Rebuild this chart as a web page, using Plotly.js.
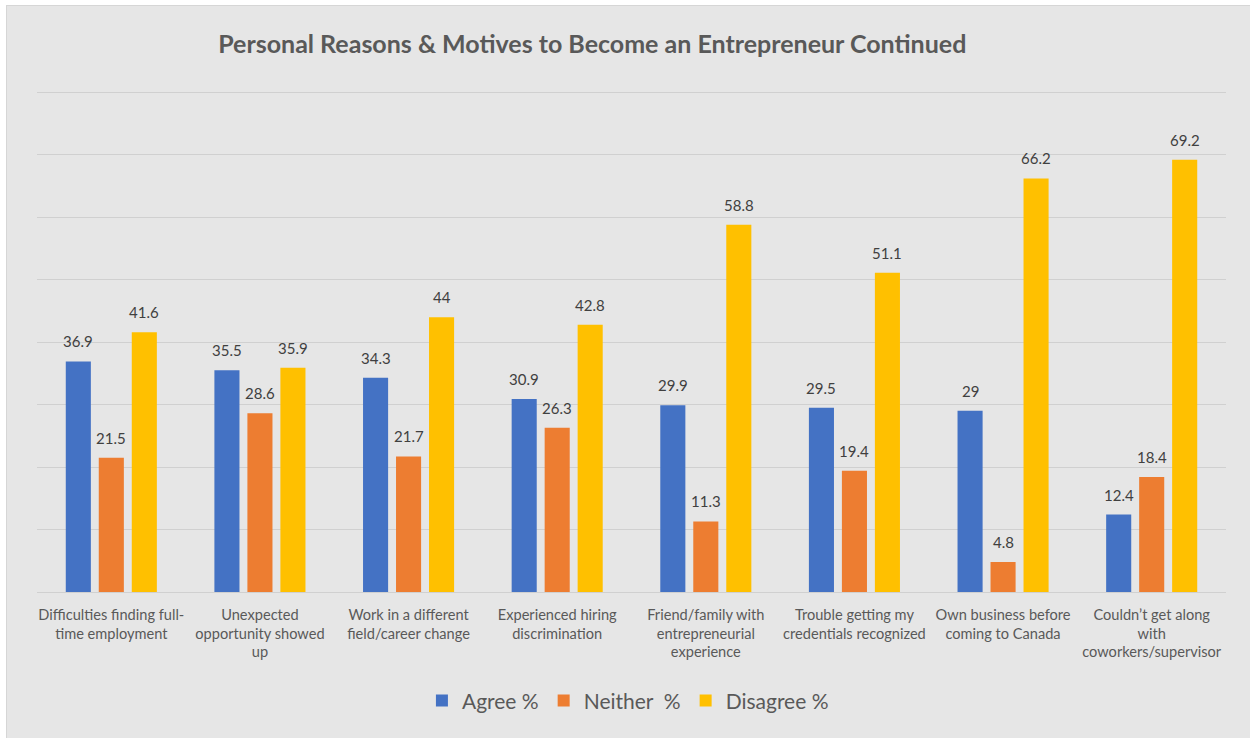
<!DOCTYPE html>
<html>
<head>
<meta charset="utf-8">
<script src="https://cdn.plot.ly/plotly-3.0.1.min.js"></script>
<style>
  html, body { margin: 0; padding: 0; background: #ffffff; overflow: hidden; }
  #chart { position: absolute; left: 6px; top: 5px; width: 1250px; height: 740px;
           border-left: 1px solid #d6d6d6; border-top: 1px solid #d6d6d6; background: #e6e6e6; }
</style>
</head>
<body>
<div id="chart"></div>
<script>
const categories = [
  "Difficulties finding full-<br>time employment",
  "Unexpected<br>opportunity showed<br>up",
  "Work in a different<br>field/career change",
  "Experienced hiring<br>discrimination",
  "Friend/family with<br>entrepreneurial<br>experience",
  "Trouble getting my<br>credentials recognized",
  "Own business before<br>coming to Canada",
  "Couldn\u2019t get along<br>with<br>coworkers/supervisor"
];
const seriesNames = ["Agree %", "Neither\u00a0\u00a0%", "Disagree %"];
const agree    = [36.9, 35.5, 34.3, 30.9, 29.9, 29.5, 29, 12.4];
const neither  = [21.5, 28.6, 21.7, 26.3, 11.3, 19.4, 4.8, 18.4];
const disagree = [41.6, 35.9, 44, 42.8, 58.8, 51.1, 66.2, 69.2];
const gridValues = [10, 20, 30, 40, 50, 60, 70, 80];
const colors = ["#4472C4", "#ED7D31", "#FFC000"];
const allSeries = [agree, neither, disagree];

const FONT = "Lato, 'Open Sans', sans-serif";

const traces = allSeries.map((vals, i) => ({
  type: "bar",
  name: seriesNames[i],
  x: categories,
  y: vals,
  marker: { color: colors[i] },
  hoverinfo: "x+y"
}));

const annotations = [];
allSeries.forEach((vals, i) => {
  vals.forEach((v, j) => {
    annotations.push({
      x: categories[j], y: v, xref: "x", yref: "y",
      text: String(v), showarrow: false,
      xshift: (i - 1) * 33, yshift: 20, yanchor: "middle",
      font: { family: FONT, size: 15, color: "#404040" }
    });
  });
});

const layout = {
  width: 1250, height: 740,
  paper_bgcolor: "#e6e6e6", plot_bgcolor: "#e6e6e6",
  margin: { l: 30, r: 31, t: 80, b: 154 },
  title: {
    text: "<b>Personal Reasons & Motives to Become an Entrepreneur Continued</b>",
    x: 0.467, xanchor: "center", y: 0.948, yanchor: "middle", xref: "paper",
    font: { family: FONT, size: 25, color: "#595959" }
  },
  barmode: "group",
  bargap: 0.334,
  bargroupgap: 0.24,
  xaxis: {
    type: "category",
    showgrid: false, showline: true, linecolor: "#d0d0d0", linewidth: 1,
    ticks: "", ticklabelstandoff: 9,
    tickfont: { family: FONT, size: 14.6, color: "#595959" },
    automargin: false
  },
  yaxis: {
    range: [0, 81], tickvals: gridValues, showticklabels: false,
    showgrid: true, gridcolor: "#d0d0d0", gridwidth: 1,
    zeroline: false, showline: false, fixedrange: true
  },
  showlegend: true,
  legend: {
    orientation: "h", x: 0.497, xanchor: "center", y: -0.215, yanchor: "middle",
    font: { family: FONT, size: 21, color: "#595959" },
    itemwidth: 30, traceorder: "normal", bgcolor: "rgba(0,0,0,0)"
  },
  annotations: annotations,
  font: { family: FONT }
};

Plotly.newPlot("chart", traces, layout, { displayModeBar: false, staticPlot: true });
</script>
</body>
</html>
